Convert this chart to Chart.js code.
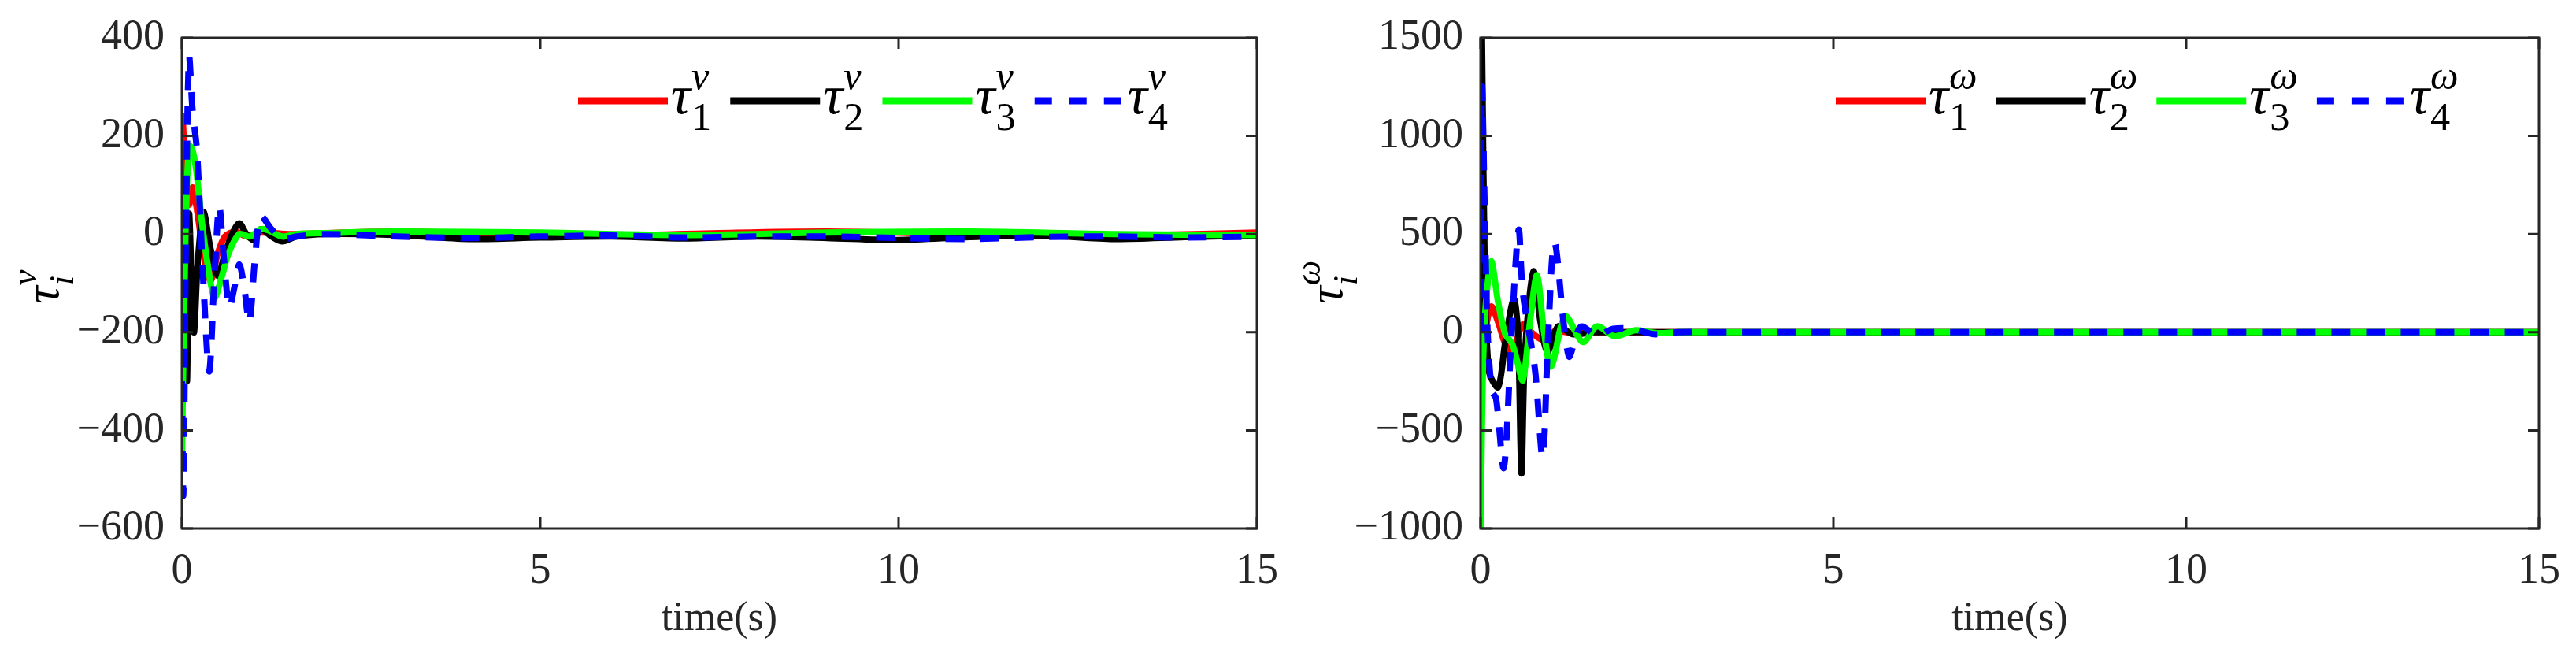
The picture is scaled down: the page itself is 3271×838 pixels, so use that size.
<!DOCTYPE html>
<html>
<head>
<meta charset="utf-8">
<script src="https://cdn.jsdelivr.net/npm/chart.js@4.4.1/dist/chart.umd.min.js"></script>
<style>
	html, body { margin: 0; padding: 0; background: #fff; }
	#wrap { position: relative; width: 3271px; height: 838px; }
	.box { position: absolute; top: 0; height: 838px; }
</style>
</head>
<body>
<div id="wrap">
	<div class="box" style="left:0;width:1640px"><canvas id="chartV"></canvas></div>
	<div class="box" style="left:1640px;width:1631px"><canvas id="chartW"></canvas></div>
</div>
<script>
// left panel: tau_i^v
const tV1 = [0, 0.01, 0.05, 0.1, 0.15, 0.22, 0.3, 0.4, 0.5, 0.6, 0.75, 0.9, 1.1, 1.5, 2, 3, 4.5, 6, 7.5, 9, 10.5, 12, 13.5, 15];
const v1 = [240, 240, 120, 60, 95, 40, -40, -95, -40, -5, 5, -5, 3, 0, 2, 5, 0, -3, 2, 5, 1, -4, -2, 3];
const tV2 = [0, 0.03, 0.07, 0.1, 0.14, 0.17, 0.22, 0.3, 0.4, 0.5, 0.6, 0.7, 0.8, 0.9, 1.0, 1.1, 1.25, 1.4, 1.6, 2, 3, 4, 5, 6, 7, 8, 9, 10, 11, 12, 13, 14, 15];
const v2 = [0, 60, -300, 40, -120, -200, -60, 45, -30, -85, -40, 0, 22, 0, -12, 10, -5, -15, -5, 0, -2, -10, -7, -5, -9, -5, -8, -12, -6, -3, -10, -6, -3];
const tV3 = [0, 0.05, 0.1, 0.15, 0.2, 0.3, 0.45, 0.55, 0.65, 0.8, 0.95, 1.1, 1.2, 1.4, 1.6, 2, 3, 5, 7, 9, 11, 13, 15];
const v3 = [-460, 0, 180, 170, 130, 0, -130, -90, -40, 0, -5, 10, 8, -5, 0, 2, 5, 3, -2, 3, 5, 0, -2];
const tV4 = [0, 0.02, 0.06, 0.1, 0.15, 0.21, 0.3, 0.38, 0.45, 0.52, 0.58, 0.66, 0.73, 0.8, 0.87, 0.94, 1.02, 1.1, 1.25, 1.4, 1.6, 2, 3, 4, 5, 6, 7, 8, 9, 10, 11, 12, 13, 14, 15];
const v4 = [-300, -530, 50, 360, 250, 170, -100, -280, -100, 57, -40, -150, -110, -62, -110, -180, -50, 36, 10, -10, -5, 0, -5, -8, -5, -3, -7, -5, -5, -8, -10, -6, -5, -7, -5];

// right panel: tau_i^omega
const tW1 = [0, 0.05, 0.15, 0.25, 0.35, 0.45, 0.6, 0.75, 0.9, 1.05, 1.3, 1.6, 2, 15];
const w1 = [-300, -50, 130, 50, -60, -100, 40, -10, -40, 5, -5, 0, 0, 0];
const tW2 = [0, 0.02, 0.06, 0.12, 0.25, 0.35, 0.47, 0.53, 0.58, 0.63, 0.75, 0.85, 0.95, 1.1, 1.3, 1.6, 2, 15];
const w2 = [0, 1500, 300, -200, -280, -50, 170, 0, -720, -100, 310, 50, -100, 30, -10, 0, 0, 0];
const tW3 = [0, 0.05, 0.15, 0.25, 0.35, 0.45, 0.52, 0.6, 0.7, 0.8, 0.9, 1.0, 1.2, 1.45, 1.65, 1.9, 2.2, 2.5, 2.8, 15];
const w3 = [-1000, 0, 360, 150, -10, -60, -150, -245, 50, 290, 0, -175, 80, -50, 30, -20, 10, -5, 0, 0];
const tW4 = [0, 0.02, 0.06, 0.1, 0.16, 0.22, 0.33, 0.44, 0.54, 0.6, 0.77, 0.88, 0.96, 1.05, 1.25, 1.42, 1.65, 1.88, 2.16, 2.45, 2.8, 3.5, 15];
const w4 = [0, 1250, 600, 0, -300, -337, -690, 0, 521, 200, -187, -637, 0, 457, -122, 28, -15, 17, 17, -10, 0, 0, 0];

const xTicks = [0, 5, 10, 15];
const colors = ["#ff0000", "#000000", "#00ff00", "#0000ff"];
const FONT = "'Liberation Serif', 'DejaVu Serif', serif";

const pts = (t, y) => t.map((x, i) => ({ x: x, y: y[i] }));

function series(list) {
	return list.map((s, i) => ({
		data: pts(s[0], s[1]),
		borderColor: colors[i],
		borderWidth: 8,
		borderDash: i === 3 ? [24, 20] : [],
		pointRadius: 0,
		tension: 0.3,
		fill: false,
		order: 4 - i,
	}));
}

// tau with sub/superscript
function drawTau(ctx, x, y, sub, sup, size, subItalic) {
	ctx.fillStyle = "#000";
	ctx.textBaseline = "alphabetic";
	ctx.textAlign = "left";
	ctx.font = "italic " + size + "px " + FONT;
	ctx.fillText("τ", x, y);
	const w = ctx.measureText("τ").width;
	ctx.font = (subItalic ? "italic " : "") + (size * 0.72) + "px " + FONT;
	ctx.fillText(sub, x + w + 1, y + size * 0.3);
	const ws = ctx.measureText(sub).width;
	ctx.font = "italic " + (size * 0.72) + "px " + FONT;
	ctx.fillText(sup, x + w + 1, y - size * 0.45);
	const wp = ctx.measureText(sup).width;
	return w + 1 + Math.max(ws, wp);
}

function decorPlugin(sup, legendLeft) {
	return {
		id: "decor",
		afterDatasetsDraw(chart) {
			const ctx = chart.ctx;
			const a = chart.chartArea;
			const xs = chart.scales.x, ys = chart.scales.y;
			ctx.save();
			ctx.strokeStyle = "#262626";
			ctx.lineWidth = 3;
			ctx.strokeRect(a.left, a.top, a.right - a.left, a.bottom - a.top);
			// inward ticks
			ctx.beginPath();
			xTicks.forEach(v => {
				const px = xs.getPixelForValue(v);
				ctx.moveTo(px, a.bottom); ctx.lineTo(px, a.bottom - 14);
				ctx.moveTo(px, a.top); ctx.lineTo(px, a.top + 14);
			});
			ys.ticks.forEach(t => {
				const py = ys.getPixelForValue(t.value);
				ctx.moveTo(a.left, py); ctx.lineTo(a.left + 14, py);
				ctx.moveTo(a.right, py); ctx.lineTo(a.right - 14, py);
			});
			ctx.stroke();
			// legend
			let x = legendLeft;
			const ly = 128;
			for (let i = 0; i < 4; i++) {
				ctx.strokeStyle = colors[i];
				ctx.lineWidth = 9;
				ctx.setLineDash(i === 3 ? [22, 22] : []);
				ctx.beginPath();
				ctx.moveTo(x, ly); ctx.lineTo(x + 114, ly);
				ctx.stroke();
				ctx.setLineDash([]);
				const w = drawTau(ctx, x + 118, ly + 16, String(i + 1), sup, 70, false);
				x += 118 + w + 24;
			}
			// axis titles
			ctx.fillStyle = "#262626";
			ctx.font = "52px " + FONT;
			ctx.textAlign = "center";
			ctx.fillText("time(s)", (a.left + a.right) / 2, 800);
			ctx.translate(sup === "v" ? 74 : 64, (a.top + a.bottom) / 2);
			ctx.rotate(-Math.PI / 2);
			drawTau(ctx, -26, 0, "i", sup, 62, true);
			ctx.restore();
		},
	};
}

function makeChart(id, data, yMin, yMax, yStep, yWidth, rightPad, sup, legendLeft) {
	return new Chart(document.getElementById(id), {
		type: "line",
		data: { datasets: series(data) },
		options: {
			responsive: true,
			maintainAspectRatio: false,
			animation: false,
			layout: { padding: { top: 48, right: rightPad, left: 0, bottom: 0 } },
			plugins: { legend: { display: false }, tooltip: { enabled: false } },
			scales: {
				x: {
					type: "linear", min: 0, max: 15,
					afterBuildTicks: s => { s.ticks = xTicks.map(v => ({ value: v })); },
					grid: { display: false },
					border: { display: false },
					ticks: { color: "#262626", font: { family: FONT, size: 54 }, padding: 14, maxRotation: 0 },
					afterFit: s => { s.height = 167; },
				},
				y: {
					min: yMin, max: yMax,
					grid: { display: false },
					border: { display: false },
					ticks: {
						stepSize: yStep, color: "#262626", font: { family: FONT, size: 54 }, padding: 14,
						callback: v => String(v).replace("-", "−"),
					},
					afterFit: s => { s.width = yWidth; },
				},
			},
		},
		plugins: [decorPlugin(sup, legendLeft)],
	});
}

makeChart("chartV", [[tV1, v1], [tV2, v2], [tV3, v3], [tV4, v4]], -600, 400, 100, 231, 44, "v", 734);
makeChart("chartW", [[tW1, w1], [tW2, w2], [tW3, w3], [tW4, w4]], -1000, 1500, 500, 240, 47, "ω", 691);
</script>
</body>
</html>
